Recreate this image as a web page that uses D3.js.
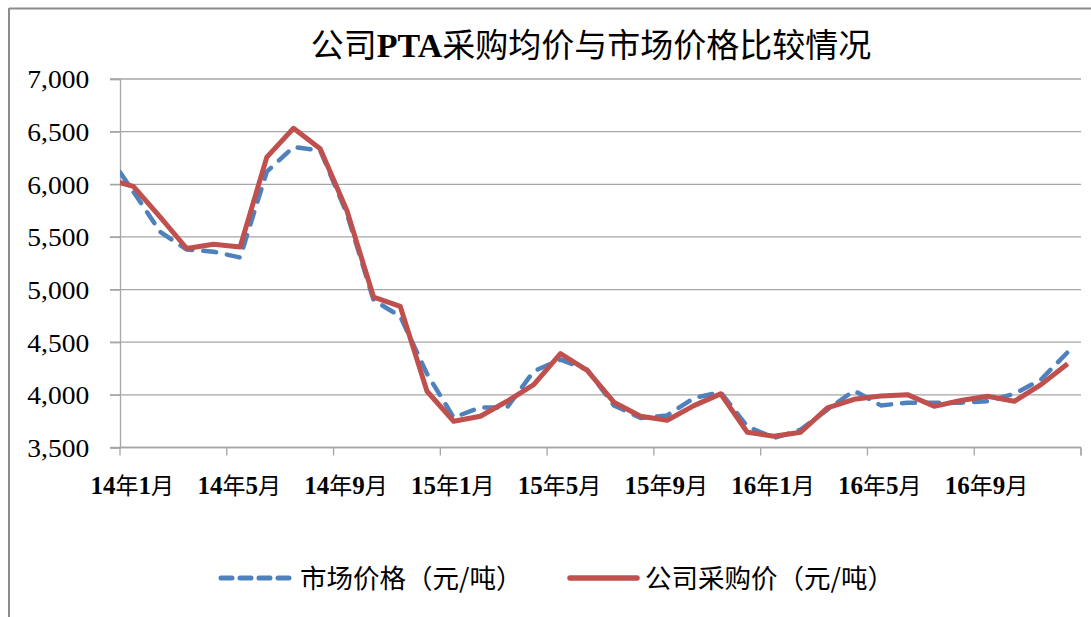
<!DOCTYPE html>
<html>
<head>
<meta charset="utf-8">
<script src="https://cdn.jsdelivr.net/npm/d3@7"></script>
<style>
  html, body { margin: 0; padding: 0; background: #fff; }
  svg { display: block; }
</style>
</head>
<body>
<svg id="chart" width="1091" height="617"></svg>
<script>
// ---- data ----
// first entry (13年12月) lies just left of the plot area and is clipped
const months = ["13年12月",
  "14年1月","14年2月","14年3月","14年4月","14年5月","14年6月","14年7月","14年8月","14年9月","14年10月","14年11月","14年12月",
  "15年1月","15年2月","15年3月","15年4月","15年5月","15年6月","15年7月","15年8月","15年9月","15年10月","15年11月","15年12月",
  "16年1月","16年2月","16年3月","16年4月","16年5月","16年6月","16年7月","16年8月","16年9月","16年10月","16年11月","16年12月"];
const marketPrice = [6300,
  5930,5550,5380,5360,5305,6120,6355,6320,5720,4900,4745,4200,
  3785,3880,3880,4225,4335,4240,3900,3780,3805,3970,4025,3700,
  3590,3670,3860,4040,3900,3925,3925,3925,3940,4010,4145,4405];
const companyPrice = [6050,
  5980,5690,5390,5430,5405,6258,6532,6338,5750,4929,4840,4034,
  3749,3797,3939,4097,4391,4233,3930,3797,3759,3898,4009,3645,
  3607,3645,3876,3958,3990,4002,3891,3946,3986,3939,4097,4296];
const yTicks = [3500,4000,4500,5000,5500,6000,6500,7000];
const xLabelMonths = ["14年1月","14年5月","14年9月","15年1月","15年5月","15年9月","16年1月","16年5月","16年9月"];
const seriesNames = ["市场价格（元/吨）","公司采购价（元/吨）"];
const titleText = ["公司","PTA","采购均价与市场价格比较情况"];

// ---- layout ----
const svg = d3.select("#chart");
const plot = {left: 120, right: 1081, top: 79, bottom: 447.5};
const nCats = months.length - 1; // months shown in plot

const x = d3.scaleLinear().domain([-0.5, nCats - 0.5]).range([plot.left, plot.right]);
const idx = m => months.indexOf(m) - 1;
const y = d3.scaleLinear().domain([3500, 7000]).range([plot.bottom, plot.top]);

const cjk = "'Noto Sans CJK SC', 'Noto Sans', sans-serif";
const serif = "'Liberation Serif', 'Noto Sans CJK SC', serif";

// outer frame (top and left edges visible)
svg.append("line").attr("x1", 9).attr("x2", 1091).attr("y1", 8.5).attr("y2", 8.5)
  .attr("stroke", "#8c8c8c").attr("stroke-width", 2);
svg.append("line").attr("x1", 9).attr("x2", 9).attr("y1", 8).attr("y2", 617)
  .attr("stroke", "#8c8c8c").attr("stroke-width", 2);

// title
const title = svg.append("text").attr("x", 591).attr("y", 57).attr("text-anchor", "middle")
  .attr("font-size", 33).attr("fill", "#000");
title.append("tspan").attr("font-family", cjk).text(titleText[0]);
title.append("tspan").attr("font-family", serif).attr("font-weight", "bold").attr("font-size", 34).text(titleText[1]);
title.append("tspan").attr("font-family", cjk).text(titleText[2]);

// gridlines
svg.append("g").selectAll("line").data(yTicks).join("line")
  .attr("x1", plot.left - 10).attr("x2", plot.right)
  .attr("y1", d => y(d)).attr("y2", d => y(d))
  .attr("stroke", "#a6a6a6").attr("stroke-width", 1.3);

// y axis
const yAxis = d3.axisLeft(y).tickValues(yTicks).tickFormat(d3.format(",")).tickSize(10).tickPadding(19);
const gy = svg.append("g").attr("transform", `translate(${plot.left},0)`).call(yAxis);
gy.select(".domain").attr("stroke", "#a6a6a6").attr("stroke-width", 1.3);
gy.selectAll(".tick line").attr("stroke", "#a6a6a6").attr("stroke-width", 1.3);
gy.selectAll("text").attr("font-family", serif).attr("font-size", 26).attr("fill", "#000")
  .attr("transform", "scale(1.06,1)").attr("dy", "0.34em");

// x axis: tick marks between categories every 4 months
const xTickVals = d3.range(-0.5, nCats, 4);
const gx = svg.append("g").attr("transform", `translate(0,${plot.bottom})`);
gx.append("line").attr("x1", plot.left).attr("x2", plot.right).attr("y1", 0).attr("y2", 0)
  .attr("stroke", "#a6a6a6").attr("stroke-width", 1.3);
gx.selectAll("line.tk").data(xTickVals.concat([nCats - 0.5])).join("line").attr("class", "tk")
  .attr("x1", d => x(d)).attr("x2", d => x(d)).attr("y1", 0).attr("y2", 8)
  .attr("stroke", "#a6a6a6").attr("stroke-width", 1.3);
const xl = gx.selectAll("text").data(xLabelMonths).join("text")
  .attr("x", d => x(idx(d)) - 1).attr("y", 46).attr("text-anchor", "middle")
  .attr("font-size", 23).attr("fill", "#000");
xl.each(function(d) {
  const t = d3.select(this);
  d.split(/(\d+)/).filter(s => s.length).forEach(s => {
    const isNum = /^\d+$/.test(s);
    t.append("tspan").attr("font-family", isNum ? serif : cjk)
      .attr("font-weight", isNum ? "bold" : "normal")
      .attr("font-size", isNum ? 25 : 23).text(s);
  });
});

// clip to plot area
svg.append("clipPath").attr("id", "clip").append("rect")
  .attr("x", plot.left).attr("y", plot.top - 10).attr("width", plot.right - plot.left).attr("height", plot.bottom - plot.top + 20);

const line = d3.line().x((d, i) => x(i - 1)).y(d => y(d));
const lines = svg.append("g").attr("clip-path", "url(#clip)");
lines.append("path").datum(marketPrice).attr("d", line)
  .attr("fill", "none").attr("stroke", "#4f81bd").attr("stroke-width", 4.5)
  .attr("stroke-dasharray", "13,11").attr("stroke-linecap", "round").attr("stroke-linejoin", "round");
lines.append("path").datum(companyPrice).attr("d", line)
  .attr("fill", "none").attr("stroke", "#c0504d").attr("stroke-width", 5)
  .attr("stroke-linejoin", "round");

// legend
const legendY = 578;
const leg = svg.append("g");
leg.append("line").attr("x1", 221).attr("x2", 290).attr("y1", legendY).attr("y2", legendY)
  .attr("stroke", "#4f81bd").attr("stroke-width", 5).attr("stroke-dasharray", "11,8").attr("stroke-linecap", "round");
leg.append("text").attr("x", 300).attr("y", legendY).attr("dy", "0.36em")
  .attr("font-family", cjk).attr("font-size", 26.5).attr("fill", "#000").text(seriesNames[0]);
leg.append("line").attr("x1", 570).attr("x2", 637).attr("y1", legendY).attr("y2", legendY)
  .attr("stroke", "#c0504d").attr("stroke-width", 5.5).attr("stroke-linecap", "round");
leg.append("text").attr("x", 645).attr("y", legendY).attr("dy", "0.36em")
  .attr("font-family", cjk).attr("font-size", 26.5).attr("fill", "#000").text(seriesNames[1]);
</script>
</body>
</html>
